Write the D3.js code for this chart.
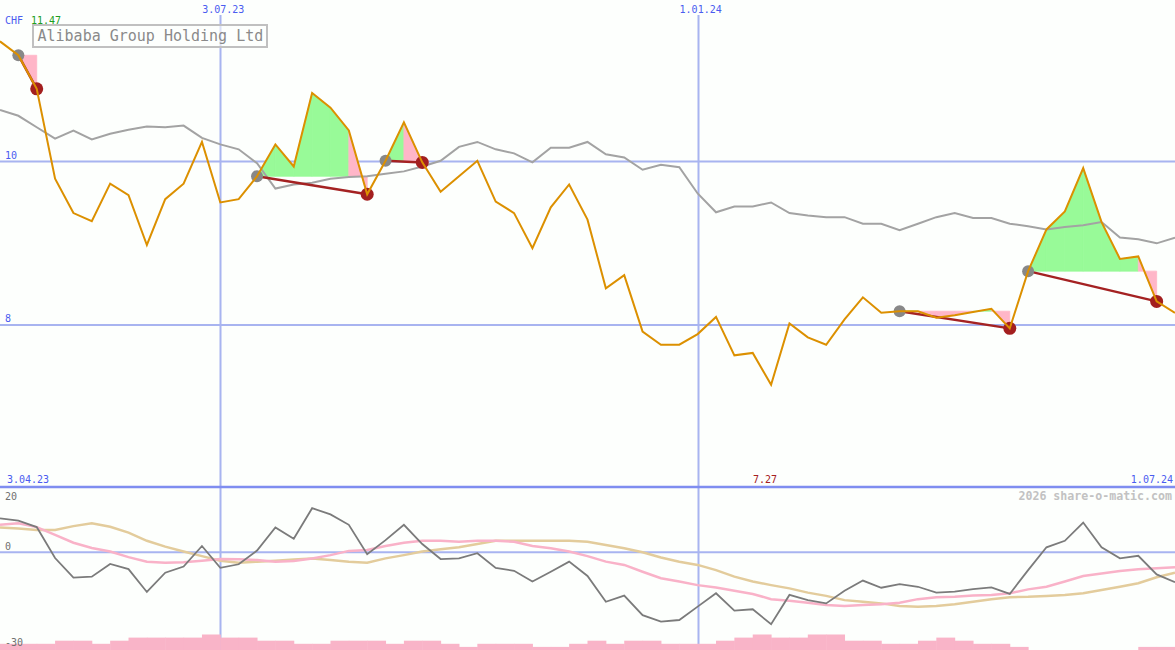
<!DOCTYPE html>
<html>
<head>
<meta charset="utf-8">
<script src="https://cdn.jsdelivr.net/npm/d3@7"></script>
<style>
  html, body { margin: 0; padding: 0; background: #fdfffd; }
  svg { display: block; }
  text { font-family: "DejaVu Sans Mono", "Liberation Mono", monospace; }
</style>
</head>
<body>
<svg id="chart" width="1175" height="650"></svg>
<script>
// ---------------- data ----------------
const title = "Alibaba Group Holding Ltd";
const currency = "CHF";
const startDate = new Date(2023, 3, 10);   // first weekly point
const gridTickDates = [new Date(2023, 6, 3), new Date(2024, 0, 1)];
const gridTickLabels = ["3.07.23", "1.01.24"];
const leftDateLabel = "3.04.23";
const rightDateLabel = "1.07.24";
const priceTicks = [10, 8];
const oscTicks = [20, 0, -30];
const copyright = "2026 share-o-matic.com";

const prices = [11.47, 11.30, 10.89, 9.79, 9.37, 9.27, 9.73, 9.59, 8.98, 9.54,
  9.73, 10.24, 9.50, 9.54, 9.82, 10.21, 9.94, 10.84, 10.66, 10.38,
  9.60, 10.01, 10.48, 9.99, 9.63, 9.82, 10.01, 9.51, 9.37, 8.94,
  9.44, 9.72, 9.29, 8.45, 8.61, 7.92, 7.76, 7.76, 7.89, 8.10,
  7.63, 7.66, 7.27, 8.02, 7.85, 7.76, 8.07, 8.34, 8.15, 8.17,
  8.17, 8.09, 8.12, 8.16, 8.20, 7.96, 8.66, 9.17, 9.39, 9.92,
  9.26, 8.81, 8.84, 8.29, 8.15];

const average = [10.63, 10.56, 10.42, 10.28, 10.38, 10.27, 10.34, 10.39, 10.43, 10.42,
  10.44, 10.29, 10.21, 10.15, 9.98, 9.67, 9.72, 9.74, 9.79, 9.81,
  9.82, 9.85, 9.88, 9.94, 10.01, 10.18, 10.24, 10.15, 10.10, 9.99,
  10.17, 10.17, 10.24, 10.09, 10.05, 9.90, 9.96, 9.93, 9.61, 9.38,
  9.45, 9.45, 9.50, 9.37, 9.34, 9.32, 9.32, 9.24, 9.24, 9.16,
  9.24, 9.32, 9.37, 9.31, 9.31, 9.24, 9.21, 9.17, 9.20, 9.22,
  9.26, 9.07, 9.05, 9.00, 9.07];

// signal start / end indices
const signalStarts = [1, 14, 21, 49, 56];
const signalEnds   = [2, 20, 23, 55, 63];

const momentum = [10.4, 9.7, 7.7, -1.8, -7.8, -7.5, -3.6, -5.2, -12.2, -6.3,
  -4.4, 1.9, -4.8, -3.7, 0.5, 7.6, 4.1, 13.5, 11.6, 8.4,
  -0.6, 3.7, 8.4, 2.5, -2.1, -1.9, -0.3, -4.8, -5.7, -9.0,
  -6.0, -2.9, -7.3, -15.2, -13.3, -19.3, -21.3, -20.8, -16.7, -12.6,
  -17.9, -17.5, -22.1, -13.1, -14.7, -15.7, -11.8, -8.7, -10.9, -9.8,
  -10.6, -12.4, -12.1, -11.3, -10.8, -12.8, -5.5, 1.5, 3.5, 9.1,
  1.5, -1.9, -1.1, -6.8, -9.2];

const pinkSignal = [8.4, 8.9, 7.7, 5.3, 2.9, 1.3, 0.2, -1.5, -2.9, -3.2,
  -3.1, -2.6, -2.1, -2.2, -2.4, -2.9, -2.7, -1.9, -0.9, 0.4,
  0.7, 1.9, 2.9, 3.5, 3.5, 3.2, 3.5, 3.5, 3.2, 1.9,
  1.2, 0.2, -1.2, -2.9, -3.9, -6.0, -8.0, -9.0, -10.1, -10.8,
  -11.8, -12.8, -14.4, -14.9, -15.5, -16.2, -16.5, -16.2, -16.0, -15.5,
  -14.4, -13.8, -13.7, -13.3, -13.1, -12.6, -11.4, -10.6, -9.0, -7.3,
  -6.5, -5.8, -5.2, -4.9, -4.6];

const tanSignal = [7.6, 7.3, 6.8, 6.8, 8.0, 8.9, 7.8, 6.0, 3.5, 1.7,
  0.2, -1.2, -2.6, -3.2, -2.9, -2.6, -2.2, -1.9, -2.4, -2.9,
  -3.2, -1.9, -0.9, 0.2, 0.9, 1.5, 2.5, 3.5, 3.5, 3.5,
  3.5, 3.5, 3.2, 2.2, 1.2, 0.0, -1.6, -2.9, -3.9, -5.5,
  -7.5, -9.0, -10.1, -11.1, -12.4, -13.4, -14.7, -15.2, -15.7, -16.5,
  -16.7, -16.5, -16.0, -15.2, -14.4, -13.8, -13.7, -13.4, -13.1, -12.6,
  -11.6, -10.6, -9.5, -7.7, -6.3];

const volume = [2, 2, 2, 3, 3, 2, 3, 4, 4, 4,
  4, 5, 4, 4, 3, 3, 2, 2, 3, 3,
  3, 2, 3, 3, 2, 1, 2, 2, 2, 1,
  1, 2, 3, 2, 3, 3, 2, 2, 2, 3,
  4, 5, 4, 4, 5, 5, 3, 3, 2, 2,
  3, 4, 3, 2, 2, 1, 0, 0, 0, 0,
  0, 0, 1, 1];

// ---------------- layout ----------------
const W = 1175, H = 650;
const mainBottom = 487;
const dates = prices.map((_, i) => d3.timeWeek.offset(startDate, i));

const x = d3.scaleTime().domain([dates[0], dates[dates.length - 1]]).range([0, W]);
const y = d3.scaleLinear().domain([6.02, 11.976]).range([mainBottom, 0]);
const yo = d3.scaleLinear().domain([-30, 20]).range([H, mainBottom]);
const yv = d3.scaleLinear().domain([0, 5]).range([H, H - 15.5]);

const svg = d3.select("#chart");
svg.append("rect").attr("width", W).attr("height", H).attr("fill", "#fdfffd");

const gridColor = "#a8b4f0";
const labelBlue = "#4a5cf0";

// vertical grid lines (both panels)
svg.append("g").selectAll("line").data(gridTickDates).join("line")
  .attr("x1", d => Math.round(x(d)) + 0.5).attr("x2", d => Math.round(x(d)) + 0.5)
  .attr("y1", 15).attr("y2", H)
  .attr("stroke", gridColor).attr("stroke-width", 2);

// horizontal grid lines, main panel
svg.append("g").selectAll("line").data(priceTicks).join("line")
  .attr("x1", 0).attr("x2", W)
  .attr("y1", d => y(d)).attr("y2", d => y(d))
  .attr("stroke", gridColor).attr("stroke-width", 2);

// zero line lower panel
svg.append("line").attr("x1", 0).attr("x2", W)
  .attr("y1", yo(0)).attr("y2", yo(0))
  .attr("stroke", gridColor).attr("stroke-width", 2);

// panel separator
svg.append("line").attr("x1", 0).attr("x2", W)
  .attr("y1", mainBottom).attr("y2", mainBottom)
  .attr("stroke", "#7f8df0").attr("stroke-width", 2.5);

// ---------- signal fills ----------
const fillG = svg.append("g");
signalStarts.forEach((s, k) => {
  const e = signalEnds[k];
  const level = prices[s];
  for (let i = s; i < e; i++) {
    const pts = [
      [x(dates[i]), y(level)],
      [x(dates[i]), y(prices[i])],
      [x(dates[i + 1]), y(prices[i + 1])],
      [x(dates[i + 1]), y(level)]
    ];
    const col = prices[i + 1] >= level ? "#98fa98" : "#ffb6c8";
    fillG.append("path")
      .attr("d", "M" + pts.map(p => p.join(",")).join("L") + "Z")
      .attr("fill", col).attr("stroke", col).attr("stroke-width", 0.8)
      .attr("stroke-linejoin", "round");
  }
});

// moving average (grey)
const lineMain = d3.line().x((d, i) => x(dates[i])).y(d => y(d));
svg.append("path").datum(average).attr("d", lineMain)
  .attr("fill", "none").attr("stroke", "#a3a3a3").attr("stroke-width", 2);

// signal connection lines
svg.append("g").selectAll("line").data(signalStarts).join("line")
  .attr("x1", d => x(dates[d])).attr("y1", d => y(prices[d]))
  .attr("x2", (d, k) => x(dates[signalEnds[k]])).attr("y2", (d, k) => y(prices[signalEnds[k]]))
  .attr("stroke", "#a42222").attr("stroke-width", 2.5);

// circles
svg.append("g").selectAll("circle").data(signalStarts).join("circle")
  .attr("cx", d => x(dates[d])).attr("cy", d => y(prices[d])).attr("r", 6)
  .attr("fill", "#888888");
svg.append("g").selectAll("circle").data(signalEnds).join("circle")
  .attr("cx", d => x(dates[d])).attr("cy", d => y(prices[d])).attr("r", 6.5)
  .attr("fill", "#a31f1f");

// price line
svg.append("path").datum(prices).attr("d", lineMain)
  .attr("fill", "none").attr("stroke", "#dc9000").attr("stroke-width", 2)
  .attr("stroke-linejoin", "miter");

// ---------- lower panel ----------
// volume bars
svg.append("g").selectAll("rect").data(volume).join("rect")
  .attr("x", (d, i) => x(dates[i]))
  .attr("width", (d, i) => x(dates[i + 1]) - x(dates[i]) + 0.5)
  .attr("y", d => yv(d))
  .attr("height", d => H - yv(d))
  .attr("fill", "#f9b4c8");

const lineOsc = d3.line().x((d, i) => x(dates[i])).y(d => yo(d));
svg.append("path").datum(tanSignal).attr("d", lineOsc)
  .attr("fill", "none").attr("stroke", "#e3cc9c").attr("stroke-width", 2.5);
svg.append("path").datum(pinkSignal).attr("d", lineOsc)
  .attr("fill", "none").attr("stroke", "#f9b2c8").attr("stroke-width", 2.5);
svg.append("path").datum(momentum).attr("d", lineOsc)
  .attr("fill", "none").attr("stroke", "#7b7b7b").attr("stroke-width", 1.8);

// ---------- labels ----------
const fs = 10;
svg.append("g").selectAll("text").data(gridTickDates).join("text")
  .attr("x", d => x(d) + 3).attr("y", 13).attr("text-anchor", "middle")
  .attr("font-size", fs).attr("fill", labelBlue)
  .text((d, i) => gridTickLabels[i]);

svg.append("g").selectAll("text").data(priceTicks).join("text")
  .attr("x", 5).attr("y", d => y(d) - 3)
  .attr("font-size", fs).attr("fill", labelBlue)
  .text(d => d);

svg.append("text").attr("x", 5).attr("y", 24).attr("font-size", fs)
  .attr("fill", labelBlue).text(currency);
svg.append("text").attr("x", 31).attr("y", 24).attr("font-size", fs)
  .attr("fill", "#1e9e1e").text(d3.max(prices).toFixed(2));

svg.append("text").attr("x", 7).attr("y", mainBottom - 4).attr("font-size", fs)
  .attr("fill", labelBlue).text(leftDateLabel);
svg.append("text").attr("x", W - 2).attr("y", mainBottom - 4).attr("font-size", fs)
  .attr("text-anchor", "end").attr("fill", labelBlue).text(rightDateLabel);

const minIdx = d3.minIndex(prices);
svg.append("text").attr("x", x(dates[minIdx]) - 6).attr("y", mainBottom - 4)
  .attr("font-size", fs).attr("text-anchor", "middle").attr("fill", "#a52020")
  .text(prices[minIdx].toFixed(2));

// oscillator tick labels
svg.append("g").selectAll("text").data(oscTicks).join("text")
  .attr("x", 5)
  .attr("y", d => d === 20 ? yo(d) + 13 : d === -30 ? yo(d) - 4 : yo(d) - 2.5)
  .attr("font-size", fs).attr("fill", "#707070")
  .text(d => d);

svg.append("text").attr("x", W - 3).attr("y", 500).attr("font-size", 11.6)
  .attr("text-anchor", "end").attr("fill", "#c2c2c2").attr("font-weight", "bold")
  .text(copyright);

// title box
svg.append("rect").attr("x", 33).attr("y", 25).attr("width", 234).attr("height", 22)
  .attr("fill", "#fdfffd").attr("fill-opacity", 0.6)
  .attr("stroke", "#c0c0c0").attr("stroke-width", 2);
svg.append("text").attr("x", 37.5).attr("y", 41).attr("font-size", 15)
  .attr("fill", "#8a8a8a").text(title);
</script>
</body>
</html>
